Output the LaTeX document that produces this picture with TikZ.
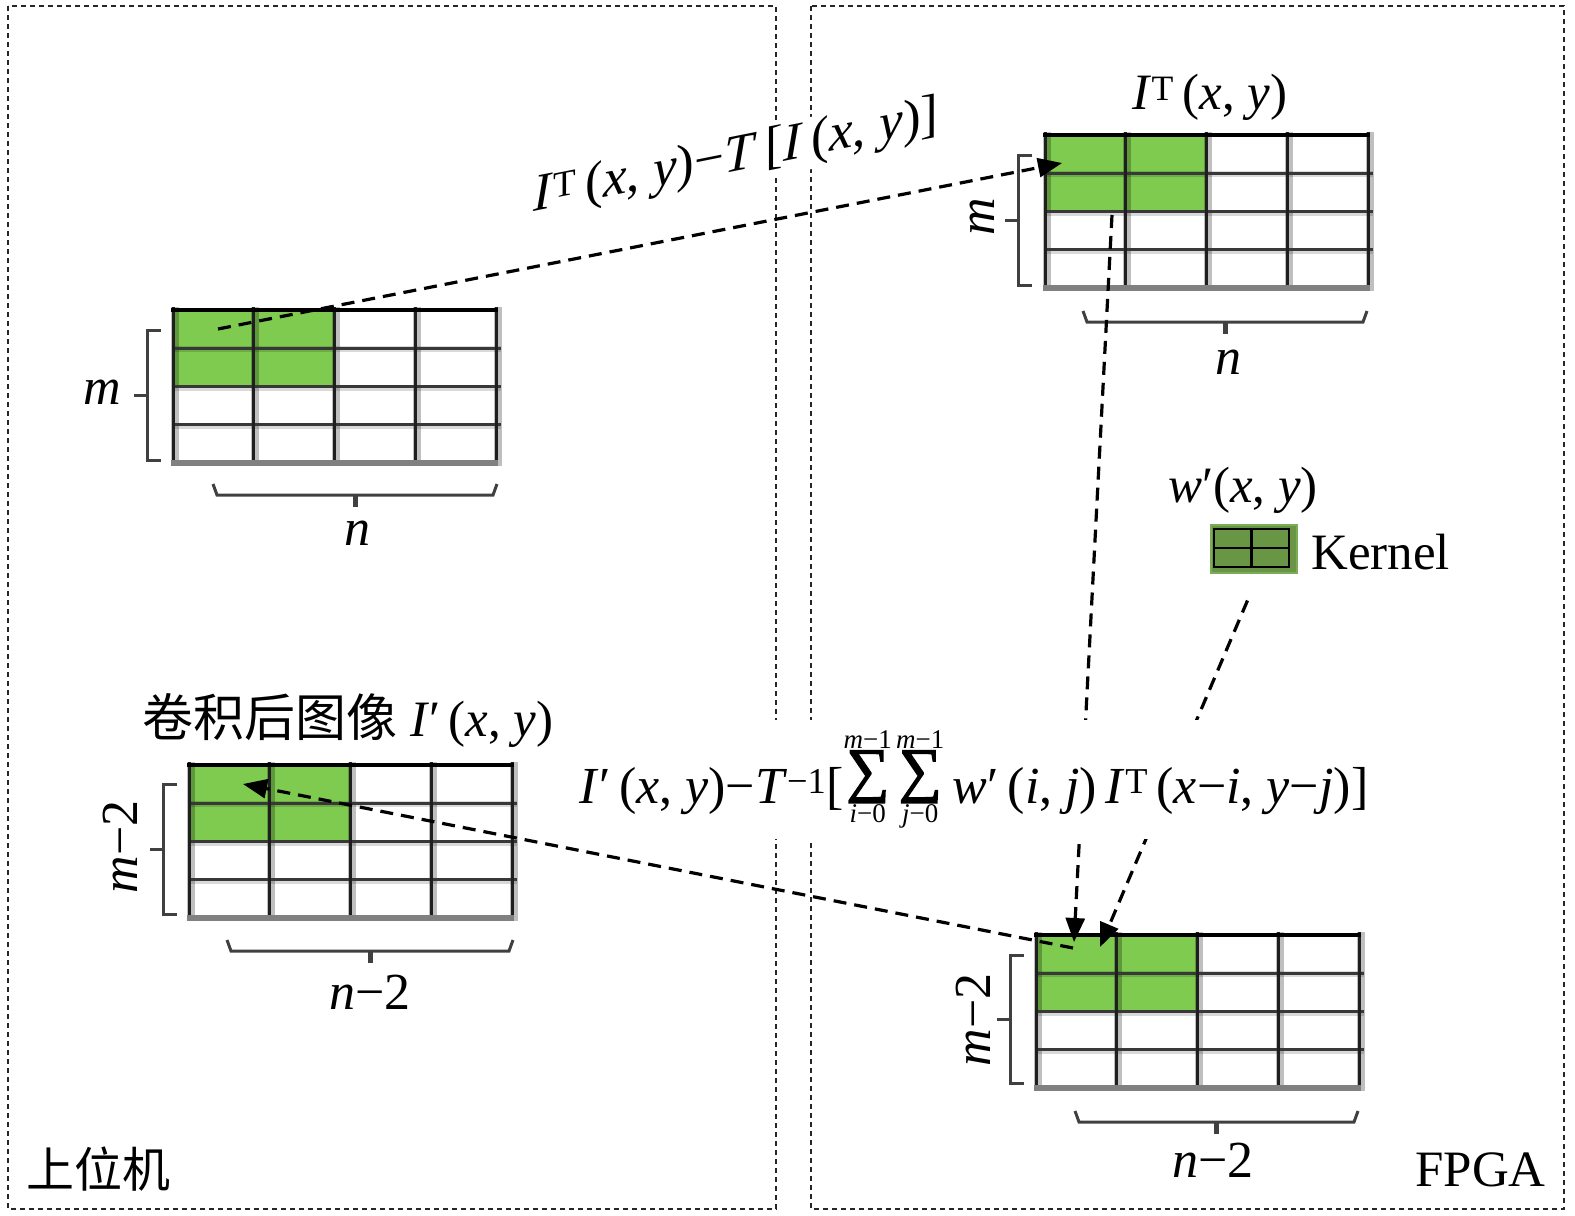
\documentclass[tikz,border=0pt]{standalone}
\usepackage{fontspec}
\setmainfont{Liberation Serif}
\newfontfamily\sumfont[FakeBold=2.5]{Liberation Serif}
\newfontfamily\cjk{Noto Sans CJK SC}
\usetikzlibrary{arrows.meta,calc}
\definecolor{gfill}{RGB}{126,203,80}
\definecolor{kfill}{RGB}{104,150,68}
\definecolor{kedge}{RGB}{125,172,88}
\tikzset{
  boxline/.style={black!85, line width=2.2pt, dash pattern=on 5pt off 4pt},
  conn/.style={black, line width=3.2pt, dash pattern=on 13pt off 8pt},
  arr/.style={conn, -{Triangle[length=24pt,width=19pt]}},
  brk/.style={black!75, line width=3pt},
  lbl/.style={font=\fontsize{52}{52}\selectfont, inner sep=0pt},
  txt/.style={font=\fontsize{51}{51}\selectfont, inner sep=0pt},
}
\newcommand\imgrid[3]{%
 \begin{scope}[shift={(#2,#3)}]
  \fill[gfill] (0,0) rectangle (161.5,76.5);
  \foreach \c in {0,1,2,3,4} \draw[black, opacity=0.25, line width=8pt] (\c*80.75+1.5,-3) -- (\c*80.75+1.5,156);
  \foreach \r in {1,2,3} \draw[black, opacity=0.15, line width=6pt] (0,\r*38.25+1) -- (328,\r*38.25+1);
  \foreach \r in {1,2,3} \draw[black!78, line width=3pt] (0,\r*38.25) -- (328,\r*38.25);
  \foreach \c in {0,1,2,3,4} \draw[black!88, line width=3pt] (\c*80.75,-3) -- (\c*80.75,156);
  \draw[black, line width=3.4pt] (-2,0) -- (325,0);
  \draw[black!50, line width=6pt] (-2,153) -- (325,153);
  \node[inner sep=0pt, minimum width=323pt, minimum height=153pt, anchor=north west] (#1) at (0,0) {};
 \end{scope}}
\newcommand\lbrk[3]{%
 \draw[brk] (#1+14,#2) -- (#1,#2) -- (#1,#3) -- (#1+14,#3);
 \draw[brk] (#1,{(#2+#3)/2}) -- (#1-13,{(#2+#3)/2});}
\newcommand\bbrk[3]{%
 \draw[brk] (#1,#3-11) -- (#1+4,#3) -- (#2-4,#3) -- (#2,#3-11);
 \draw[brk, line width=5pt] ({(#1+#2)/2},#3) -- ({(#1+#2)/2},#3+12);}
\newcommand\slim[2]{\mathop{\hbox{\raisebox{13pt}{\fontsize{60}{60}\sumfont ∑}}}\limits^{\hbox{\fontsize{27}{27}\selectfont #1}}_{\hbox{\fontsize{27}{27}\selectfont #2}}}
\begin{document}
\begin{tikzpicture}[x=1pt,y=-1pt]
\useasboundingbox (0,0) rectangle (1575,1216);
% panels
\draw[boxline] (8,6) rectangle (776,1209);
\draw[boxline] (811,6) rectangle (1564,1209);
\node[font=\cjk\fontsize{48}{48}\selectfont, inner sep=0pt] (host) at (99,1169) {上位机};
\node[txt, anchor=base east] (fpga) at (1546,1186) {FPGA};
% grids
\imgrid{g1}{173}{310}
\imgrid{g2}{1045}{135}
\imgrid{g3}{189}{765}
\imgrid{g4}{1036}{935}
% brackets and labels
\lbrk{147}{330}{460}
\bbrk{213}{497}{495}
\node[lbl] (m1) at (102,392) {\textit{m}};
\node[lbl] (n1) at (357,533) {\textit{n}};
\lbrk{1018}{155}{285}
\bbrk{1083}{1367}{322}
\node[lbl, rotate=90] (m2) at (982,217) {\textit{m}};
\node[lbl] (n2) at (1228,362) {\textit{n}};
\lbrk{163}{784}{914}
\bbrk{227}{513}{951}
\node[lbl, rotate=90] (m3) at (120,847) {\textit{m}−2};
\node[lbl] (n3) at (370,992) {\textit{n}−2};
\lbrk{1010}{955}{1083}
\bbrk{1075}{1358}{1122}
\node[lbl, rotate=90] (m4) at (973,1020) {\textit{m}−2};
\node[lbl] (n4) at (1213,1160) {\textit{n}−2};
% titles
\node[txt] (t2) at (1210,97) {\textit{I}\textsuperscript{T}\,(\textit{x}, \textit{y})};
\node[txt] (t3) at (348,720) {{\cjk 卷积后图像} \textit{I}′\,(\textit{x}, \textit{y})};
% kernel
\node[fill=kfill, draw=kedge, line width=2pt, minimum width=86pt, minimum height=48pt, inner sep=0pt] (kern) at (1253.5,548.5) {};
\draw[black, line width=2.6pt] (1214,529) rectangle (1289,567) (1251.5,529) -- (1251.5,567) (1214,548) -- (1289,548);
\node[txt] (wlab) at (1243,490) {\textit{w}′(\textit{x}, \textit{y})};
\node[txt, anchor=base west] (klab) at (1311,569) {Kernel};
% connector end points
\coordinate (a1s) at ($(g1.north west)+(45,19)$);
\coordinate (a1e) at ($(g2.north west)+(17,28)$);
\coordinate (a2s) at ($(g2.north west)+(67,80)$);
\coordinate (a2e) at ($(g4.north west)+(38,7)$);
\coordinate (a3s) at ($(kern.south)+(-6,27)$);
\coordinate (a3e) at ($(g4.north west)+(64,12)$);
\coordinate (a4s) at ($(g4.north west)+(37,13)$);
\coordinate (a4e) at ($(g3.north west)+(54,19)$);
% connectors
\draw[arr] (a1s) -- (a1e);
\draw[arr] (a2s) -- (a2e);
\draw[arr] (a3s) -- (a3e);
\draw[arr] (a4s) -- (a4e);
% formulas
\node[txt, font=\fontsize{53}{53}\selectfont, fill=white, yslant=0.2, inner sep=2pt] (f1) at (736,158) {\textit{I}\textsuperscript{T}\,(\textit{x}, \textit{y})−\textit{T}\,[\textit{I}\,(\textit{x}, \textit{y})]};
\node[txt, font=\fontsize{52}{52}\selectfont, fill=white, inner xsep=3pt, inner ysep=10pt, anchor=base] (f2) at (974,803) {\textit{I}′\,(\textit{x}, \textit{y})−\textit{T}\textsuperscript{−1}[$\slim{\textit{m}−1}{\textit{i}−0}\slim{\textit{m}−1}{\textit{j}−0}$\,\textit{w}′\,(\textit{i}, \textit{j})\,\textit{I}\textsuperscript{T}\,(\textit{x}−\textit{i}, \textit{y}−\textit{j})]};
\end{tikzpicture}
\end{document}
